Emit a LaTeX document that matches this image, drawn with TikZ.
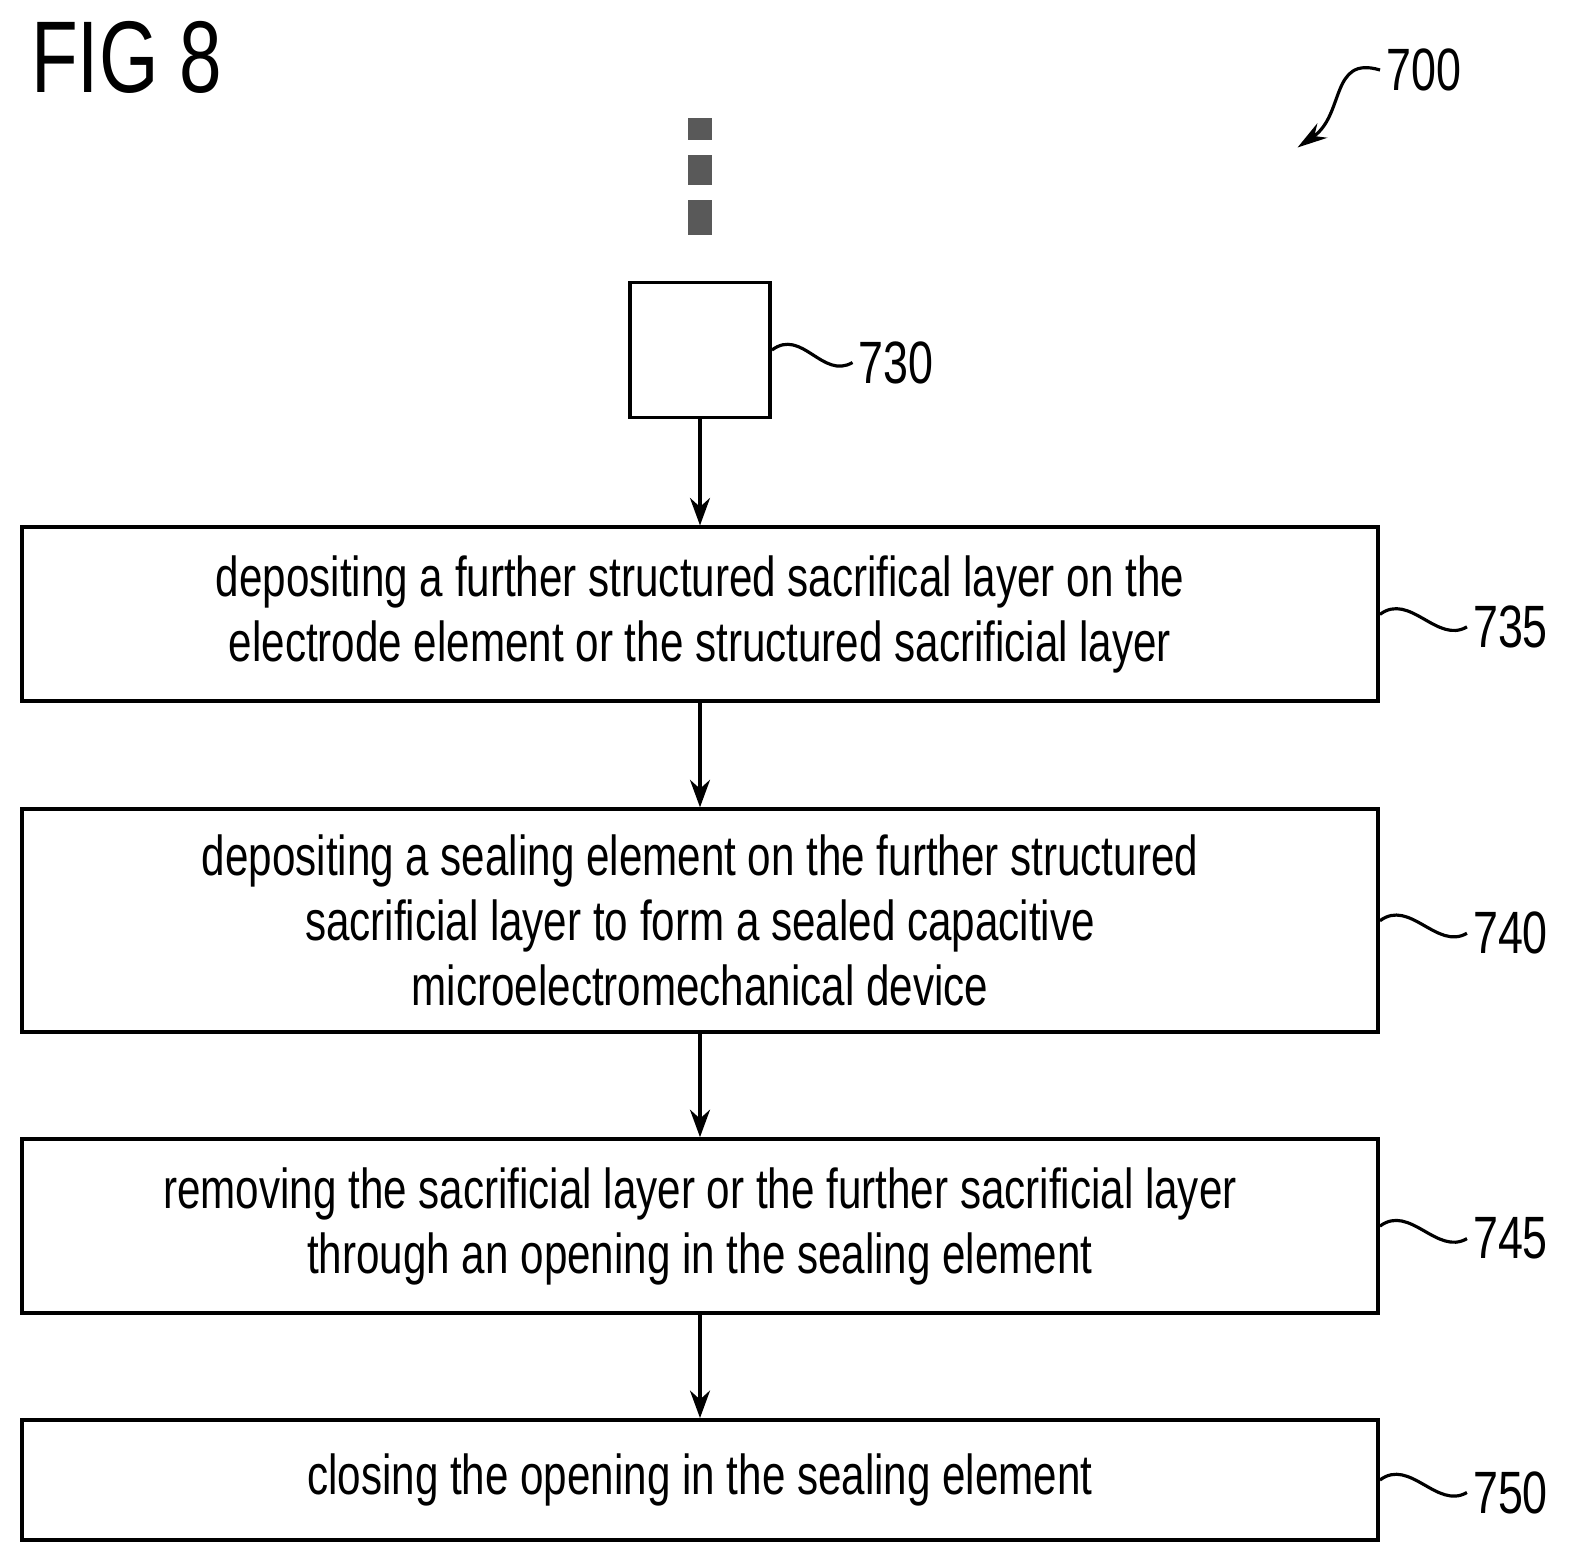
\documentclass[tikz,border=0pt]{standalone}
\usepackage{fontspec}
\setmainfont{Liberation Sans}[FakeStretch=0.75]
\usetikzlibrary{positioning, arrows.meta}
\tikzset {
    node distance=2.08cm,
    stepbox/.style={draw, line width=2.2pt, minimum width=27.12cm, align=center,
        font=\fontsize{32}{37}\selectfont, inner sep=0pt},
    ref/.style={font=\fontsize{34}{40}\selectfont, anchor=west},
    flow/.style={line width=2pt, -{Stealth[length=0.55cm, width=0.4cm]}},
    wave/.style={line width=1.8pt}
}

\begin{document}
\begin{tikzpicture}
    \useasboundingbox (0,0) rectangle (31.44,-31.02);
    \node[anchor=north west, font=\fontsize{58}{60}\selectfont] (fig) at (0.5,-0.3) {FIG 8};
    \node[ref] (l700) at (27.6,-1.4) {700};
    \coordinate (t700) at (25.95,-2.95);
    \draw[wave, -{Stealth[length=0.6cm, width=0.35cm]}] (l700.west) .. controls (26.6,-1.1) and (26.9,-2.3) .. (t700);

    % continuation dots
    \foreach \y/\h in {2.36/0.44, 3.1/0.6, 4.0/0.7}
        \fill[gray!70!black] (13.76,-\y) rectangle ++(0.48,-\h);

    \node[draw, line width=2.2pt, minimum width=2.8cm, minimum height=2.7cm] (s730) at (14,-7.0) {};
    \node[stepbox, minimum height=3.48cm, below=2.12cm of s730] (s735) {depositing a further structured sacrifical layer on the\\electrode element or the structured sacrificial layer};
    \node[stepbox, minimum height=4.46cm, below=of s735] (s740) {depositing a sealing element on the further structured\\sacrificial layer to form a sealed capacitive\\microelectromechanical device};
    \node[stepbox, minimum height=3.48cm, below=2.06cm of s740] (s745) {removing the sacrificial layer or the further sacrificial layer\\through an opening in the sealing element};
    \node[stepbox, minimum height=2.4cm, below=2.06cm of s745] (s750) {closing the opening in the sealing element};

    \draw[flow] (s730) -- (s735);
    \draw[flow] (s735) -- (s740);
    \draw[flow] (s740) -- (s745);
    \draw[flow] (s745) -- (s750);

    % reference numerals
    \node[ref] (l730) at (17.05,-7.25) {730};
    \draw[wave] (s730.east) .. controls +(0.6,0.45) and +(-0.6,-0.35) .. (l730.west);
    \foreach \s in {735,740,745,750} {
        \node[ref] (l\s) at ([xshift=1.74cm, yshift=-0.25cm]s\s.east) {\s};
        \draw[wave] (s\s.east) .. controls +(0.6,0.45) and +(-0.6,-0.35) .. (l\s.west);
    }
\end{tikzpicture}
\end{document}
